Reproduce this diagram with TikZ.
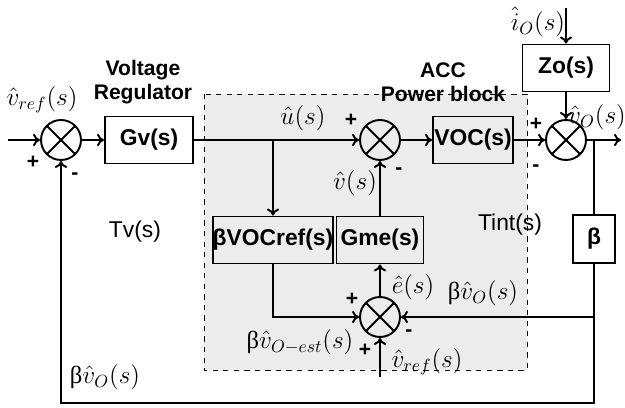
\documentclass[tikz,border=0pt]{standalone}
\usepackage{fontspec}
\setmainfont{Liberation Sans}
\newfontfamily\grkserif{Liberation Serif}
\newcommand{\gbeta}{{\grkserif β}}
\usetikzlibrary{arrows.meta,positioning,calc}

\begin{document}
\begin{tikzpicture}[
  x=0.02cm, y=-0.02cm,
  blk/.style={
    draw, line width=1.1pt, inner sep=0pt, minimum height=0.94cm,
    font=\fontsize{13}{15}\selectfont\bfseries
  },
  sumj/.style={
    draw, circle, line width=1.1pt, minimum size=0.8cm, inner sep=0pt,
    path picture={
      \draw[line width=1.1pt]
        ($(path picture bounding box.center)+(45:0.4cm)$) --
        ($(path picture bounding box.center)+(225:0.4cm)$)
        ($(path picture bounding box.center)+(135:0.4cm)$) --
        ($(path picture bounding box.center)+(-45:0.4cm)$);
    }
  },
  wire/.style={line width=1.1pt},
  arr/.style={wire, -{To[length=4pt,width=7pt]}},
  sgn/.style={font=\fontsize{12}{14}\selectfont\bfseries},
  sig/.style={font=\fontsize{14}{16}\selectfont},
  ttl/.style={font=\fontsize{12}{14}\selectfont\bfseries},
  plain/.style={font=\fontsize{13}{15}\selectfont},
]
\useasboundingbox (0,0) rectangle (625,408);
% ACC power block region
\fill[gray!15] (204,94) rectangle (527,370);
\draw[dashed, line width=0.4pt] (204,94) rectangle (527,370);

% blocks and summing junctions
\node[sumj] (s1) at (61,140) {};
\node[blk, minimum width=1.76cm] (gv) at (149,140) {Gv(s)};
\node[sumj] (s2) at (380,140) {};
\node[blk, minimum width=1.6cm] (voc) at (473,140) {VOC(s)};
\node[blk, minimum width=1.74cm] (zo) at (566,68) {Zo(s)};
\node[sumj] (s3) at (566,140) {};
\node[blk, minimum width=0.84cm, minimum height=0.96cm] (beta) at (594,239) {β};
\node[blk, minimum width=2.34cm] (vocref) at (273,240) {βVOCref(s)};
\node[blk, minimum width=1.74cm] (gme) at (380,240) {Gme(s)};
\node[sumj] (s4) at (380,317) {};

% free ends and branch points
\coordinate (vin) at (8,140);
\coordinate (iin) at (566,8);
\coordinate (vout) at (621,140);
\coordinate (rin) at (380,377);
\coordinate (bot) at (594,403);
\coordinate (ubr) at (vocref |- gv);
\coordinate (obr) at (beta |- s3);
\coordinate (fb) at (beta |- s4);

% connectors
\draw[arr] (vin) -- (s1);
\draw[arr] (s1) -- (gv);
\draw[arr] (gv) -- (s2);
\draw[arr] (ubr) -- (vocref);
\draw[arr] (s2) -- (voc);
\draw[arr] (voc) -- (s3);
\draw[arr] (iin) -- (zo);
\draw[arr] (zo) -- (s3);
\draw[arr] (s3) -- (vout);
\draw[wire] (obr) -- (beta);
\draw[arr] (beta) -- (bot) -| (s1);
\draw[arr] (fb) -- (s4);
\draw[arr] (vocref) |- (s4);
\draw[arr] (rin) -- (s4);
\draw[arr] (s4) -- (gme);
\draw[arr] (gme) -- (s2);

% titles
\node[ttl] (tvr1) at (143,70) {Voltage};
\node[ttl] (tvr2) at (143,94) {Regulator};
\node[ttl] (tacc1) at (443,70) {ACC};
\node[ttl] (tacc2) at (443,94) {Power block};
\node[plain] (ltv) at (135,232) {Tv(s)};
\node[plain] (ltint) at (510,225) {Tint(s)};

% signal labels
\node[sig] (lvref) at (42,100) {$\hat{v}_{ref}(s)$};
\node[sig] (lu) at (303,118) {$\hat{u}(s)$};
\node[sig] (lv) at (355,183) {$\hat{v}(s)$};
\node[sig] (lio) at (538,22) {$\hat{i}_O(s)$};
\node[sig] (lvo) at (597,117) {$\hat{v}_O(s)$};
\node[sig] (le) at (413,287) {$\hat{e}(s)$};
\node[sig] (lbvo) at (483,293) {\gbeta$\hat{v}_O(s)$};
\node[sig] (lvref2) at (427,362) {$\hat{v}_{ref}(s)$};
\node[sig] (lest) at (300,342) {\gbeta$\hat{v}_{O-est}(s)$};
\node[sig] (lbvo2) at (105,377) {\gbeta$\hat{v}_O(s)$};

% signs
\foreach \x/\y/\s [count=\i] in {33/162/+, 75/176/-, 351/120/+, 399/171/-,
    536/124/+, 536/168/-, 352/299/+, 409/333/-, 365/350/+}
  \node[sgn] (sg\i) at (\x,\y) {\s};
\end{tikzpicture}
\end{document}
